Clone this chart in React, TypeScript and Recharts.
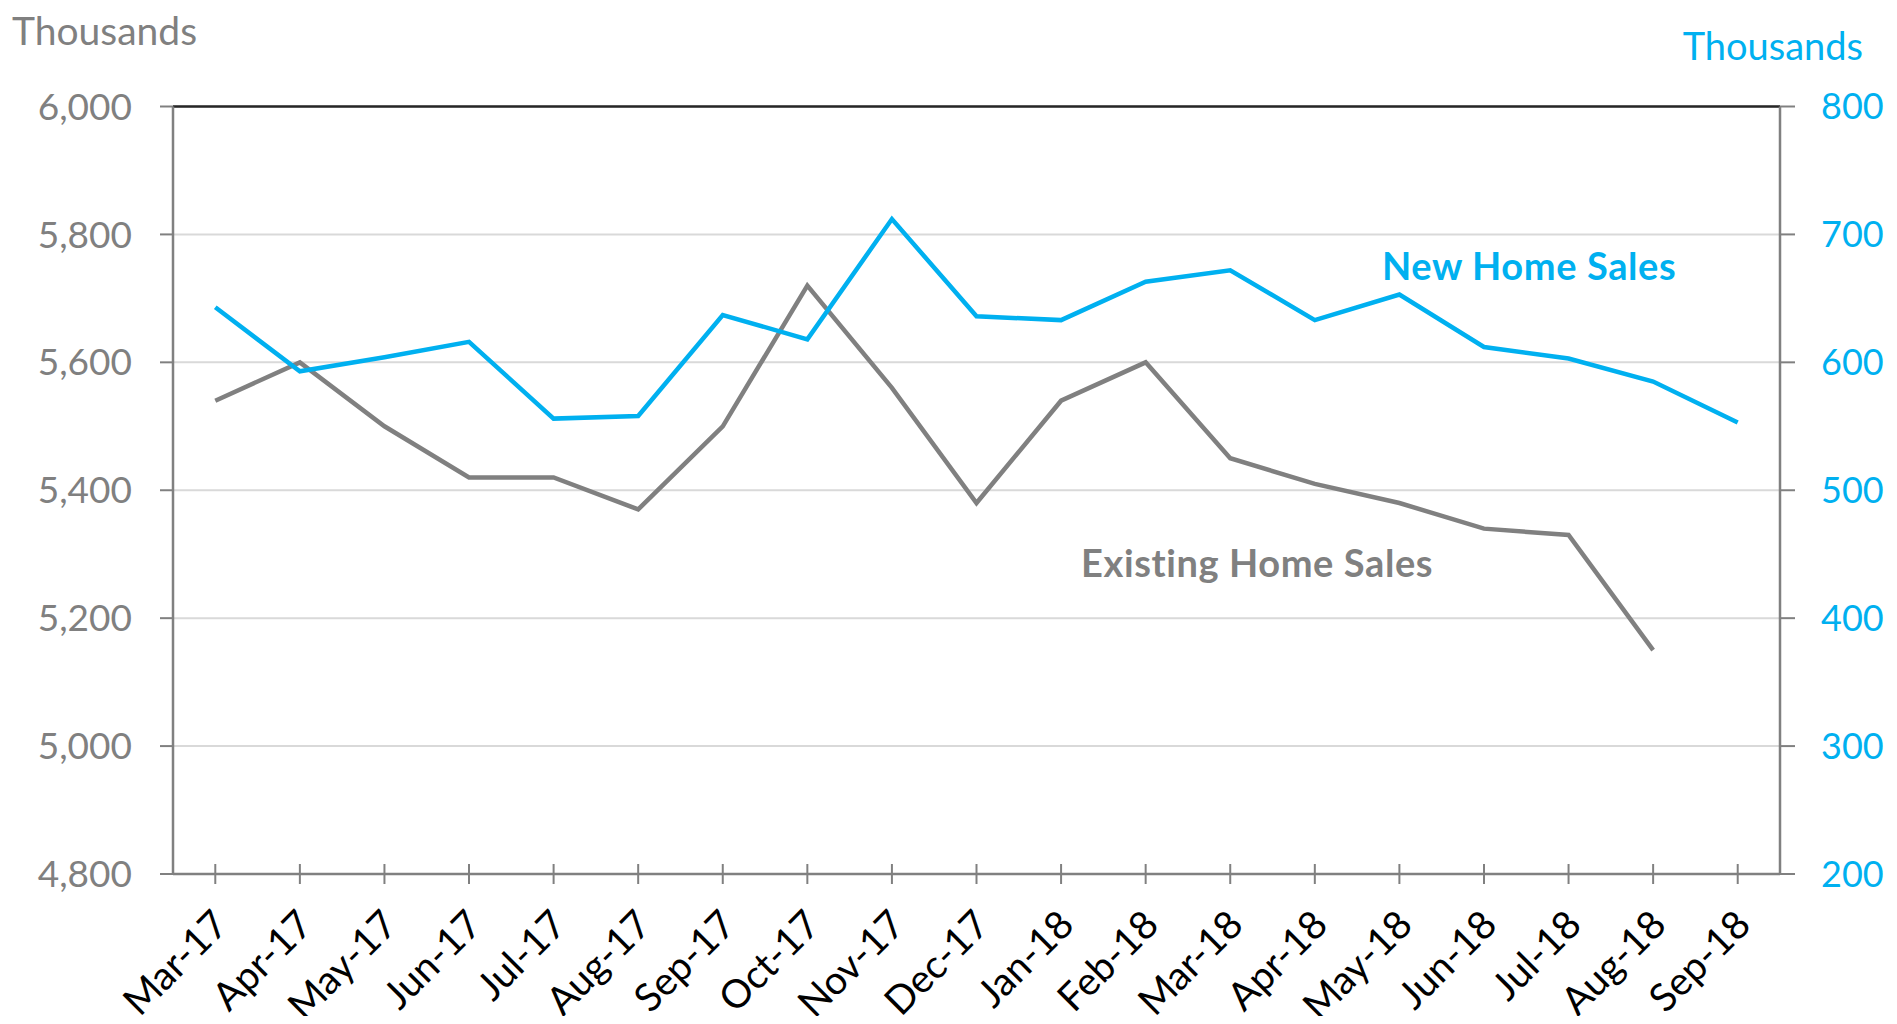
import React from 'react';
import { LineChart, Line, XAxis, YAxis, CartesianGrid, ReferenceLine } from 'recharts';

const months = ['Mar-17','Apr-17','May-17','Jun-17','Jul-17','Aug-17','Sep-17','Oct-17','Nov-17','Dec-17','Jan-18','Feb-18','Mar-18','Apr-18','May-18','Jun-18','Jul-18','Aug-18','Sep-18'];
const existingHomeSales: (number | null)[] = [5540,5600,5500,5420,5420,5370,5500,5720,5560,5380,5540,5600,5450,5410,5380,5340,5330,5150,null];
const newHomeSales: number[] = [643,593,604,616,556,558,637,618,712,636,633,663,672,633,653,612,603,585,553];
const leftTicks = [4800,5000,5200,5400,5600,5800,6000];
const rightTicks = [200,300,400,500,600,700,800];

const data = months.map((m, i) => ({ month: m, existing: existingHomeSales[i], newSales: newHomeSales[i] }));

const FONT = 'Lato, "Open Sans", sans-serif';
const GRAY = '#808080';
const BLUE = '#00B0F0';
const W = 1881;
const H = 1008;
const TICK = 10;

const XTick = (props: any) => {
  const { x, y, payload } = props;
  const axisY = y - TICK;
  return (
    <g>
      <line x1={x} x2={x} y1={axisY - TICK} y2={axisY + TICK} stroke={GRAY} strokeWidth={2} />
      <g transform={`translate(${x + 15},${axisY + 53})`}>
        <text x={0} y={0} textAnchor="end" transform="rotate(-45)" fill="#000" fontSize={39} fontFamily={FONT}>
          {payload.value}
        </text>
      </g>
    </g>
  );
};

export default function App() {
  return (
    <div style={{ position: 'relative', width: W, height: H, fontFamily: FONT }}>
      <style>{'.recharts-surface{overflow:visible}'}</style>
      <LineChart width={W} height={H} data={data} margin={{ top: 98.5, right: 0, bottom: 0, left: 0 }}>
        <CartesianGrid yAxisId="left" vertical={false} stroke="#d9d9d9" strokeWidth={2} />
        <XAxis
          dataKey="month"
          scale="band"
          interval={0}
          height={142}
          tickSize={TICK}
          tickMargin={0}
          axisLine={{ stroke: GRAY, strokeWidth: 2.5 }}
          tickLine={false}
          tick={<XTick />}
        />
        <YAxis
          yAxisId="left"
          domain={[4800, 6000]}
          ticks={leftTicks}
          width={165}
          tickSize={13}
          tickMargin={28}
          tickFormatter={(v: number) => v.toLocaleString('en-US')}
          axisLine={{ stroke: GRAY, strokeWidth: 2.5 }}
          tickLine={{ stroke: GRAY, strokeWidth: 2 }}
          tick={{ fill: GRAY, fontSize: 37, fontFamily: FONT }}
          allowDataOverflow
        />
        <YAxis
          yAxisId="right"
          orientation="right"
          domain={[200, 800]}
          ticks={rightTicks}
          width={109}
          tickSize={15}
          tickMargin={26}
          axisLine={{ stroke: GRAY, strokeWidth: 2.5 }}
          tickLine={{ stroke: GRAY, strokeWidth: 2 }}
          tick={{ fill: BLUE, fontSize: 36, fontFamily: FONT, textAnchor: 'start' }}
          allowDataOverflow
        />
        <ReferenceLine yAxisId="left" y={6000} stroke="#262626" strokeWidth={2.5} />
        <Line yAxisId="left" type="linear" dataKey="existing" stroke={GRAY} strokeWidth={4.5} dot={false} isAnimationActive={false} />
        <Line yAxisId="right" type="linear" dataKey="newSales" stroke={BLUE} strokeWidth={4.5} dot={false} isAnimationActive={false} />
      </LineChart>
      <svg width={W} height={H} style={{ position: 'absolute', left: 0, top: 0, pointerEvents: 'none', overflow: 'visible' }}>
        <text x={4} y={37} fill={GRAY} fontSize={39} fontFamily={FONT}>Thousands</text>
        <text x={1855} y={52} fill={BLUE} fontSize={38} fontFamily={FONT} textAnchor="end">Thousands</text>
        <text x={1374} y={272} fill={BLUE} fontSize={38} fontWeight="bold" letterSpacing={0.6} fontFamily={FONT}>New Home Sales</text>
        <text x={1073} y={569} fill={GRAY} fontSize={38} fontWeight="bold" letterSpacing={0.6} fontFamily={FONT}>Existing Home Sales</text>
      </svg>
    </div>
  );
}
